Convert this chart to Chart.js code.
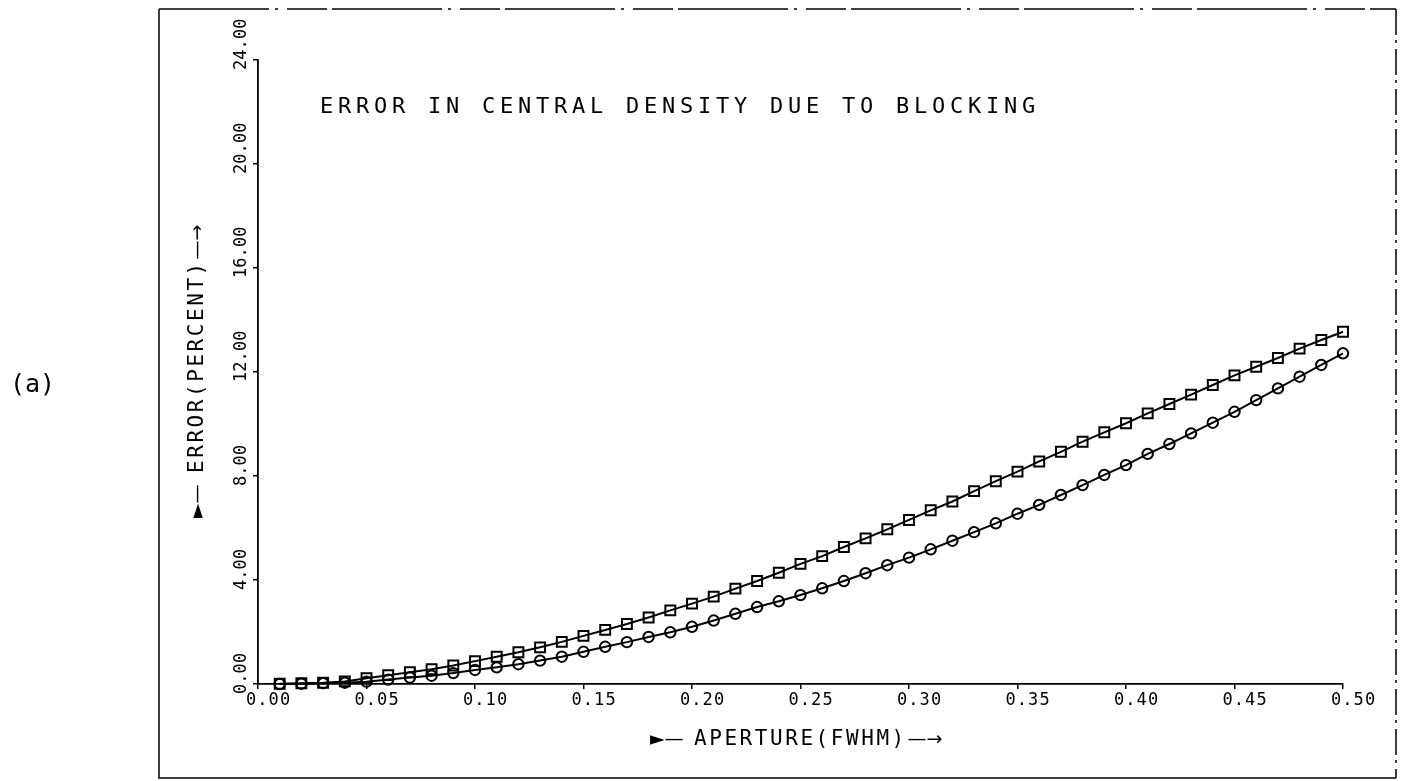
<!DOCTYPE html>
<html>
<head>
<meta charset="utf-8">
<script src="https://cdn.jsdelivr.net/npm/chart.js@4/dist/chart.umd.min.js"></script>
<style>
  html, body { margin: 0; padding: 0; background: #fff; }
  canvas { display: block; }
</style>
</head>
<body>
<canvas id="c" width="1407" height="781"></canvas>
<script>
// Aperture values (FWHM units) at which the blocking error was computed
const aperture = [
  0.01, 0.02, 0.03, 0.04, 0.05, 0.06, 0.07, 0.08, 0.09, 0.10,
  0.11, 0.12, 0.13, 0.14, 0.15, 0.16, 0.17, 0.18, 0.19, 0.20,
  0.21, 0.22, 0.23, 0.24, 0.25, 0.26, 0.27, 0.28, 0.29, 0.30,
  0.31, 0.32, 0.33, 0.34, 0.35, 0.36, 0.37, 0.38, 0.39, 0.40,
  0.41, 0.42, 0.43, 0.44, 0.45, 0.46, 0.47, 0.48, 0.49, 0.50
];

// Error in central density (percent), square-marker curve
const errSquares = [
  0.01, 0.03, 0.05, 0.10, 0.22, 0.34, 0.45, 0.57, 0.71, 0.88,
  1.05, 1.22, 1.41, 1.62, 1.85, 2.08, 2.31, 2.56, 2.83, 3.09,
  3.36, 3.67, 3.96, 4.28, 4.62, 4.92, 5.27, 5.60, 5.95, 6.31,
  6.68, 7.02, 7.42, 7.80, 8.17, 8.56, 8.93, 9.32, 9.68, 10.03,
  10.41, 10.77, 11.13, 11.50, 11.87, 12.20, 12.54, 12.90, 13.23, 13.55
];

// Error in central density (percent), circle-marker curve
const errCircles = [
  0.00, 0.01, 0.03, 0.05, 0.09, 0.17, 0.25, 0.32, 0.42, 0.54,
  0.64, 0.76, 0.90, 1.05, 1.24, 1.43, 1.61, 1.81, 1.99, 2.20,
  2.44, 2.70, 2.96, 3.18, 3.42, 3.68, 3.96, 4.26, 4.57, 4.86,
  5.18, 5.51, 5.84, 6.18, 6.55, 6.89, 7.27, 7.65, 8.04, 8.42,
  8.85, 9.23, 9.64, 10.05, 10.47, 10.92, 11.37, 11.82, 12.27, 12.72
];

const xTickLabels = ['0.00', '0.05', '0.10', '0.15', '0.20', '0.25', '0.30', '0.35', '0.40', '0.45', '0.50'];
const yTickLabels = ['0.00', '4.00', '8.00', '12.00', '16.00', '20.00', '24.00'];

const plotTitle = 'ERROR IN CENTRAL DENSITY DUE TO BLOCKING';
const xAxisTitle = 'APERTURE(FWHM)';
const yAxisTitle = 'ERROR(PERCENT)';
const panelTag = '(a)';

const MONO = '"DejaVu Sans Mono", monospace';
const SANS = '"DejaVu Sans", sans-serif';

// draw a string one character at a time with a fixed pitch (plotter-style lettering)
function spaced(ctx, text, x, y, pitch) {
  for (let i = 0; i < text.length; i++) {
    ctx.fillText(text[i], x + i * pitch, y);
  }
}

// axis title with a leading "►—" and trailing "—→", laid out along +u
function arrowTitle(ctx, text, pitch, gapBefore, gapAfter) {
  ctx.font = '19px ' + SANS;
  ctx.fillText('\u25BA\u2014', 0, 0);
  const start = gapBefore;
  ctx.font = '21px ' + MONO;
  spaced(ctx, text, start, 0, pitch);
  const end = start + (text.length - 1) * pitch + 12 + gapAfter;
  ctx.font = '19px ' + SANS;
  ctx.fillText('\u2014\u2192', end, 0);
}

const decorations = {
  id: 'decorations',
  beforeDraw(chart) {
    const ctx = chart.ctx;
    ctx.save();
    ctx.fillStyle = '#fff';
    ctx.fillRect(0, 0, chart.width, chart.height);
    ctx.restore();
  },
  afterDraw(chart) {
    const ctx = chart.ctx;
    const xs = chart.scales.x, ys = chart.scales.y;
    ctx.save();
    ctx.fillStyle = '#000';
    ctx.strokeStyle = '#000';

    // outer frame
    ctx.lineWidth = 1.5;
    ctx.beginPath(); ctx.moveTo(159, 9); ctx.lineTo(159, 778); ctx.lineTo(1396, 778); ctx.stroke();
    ctx.setLineDash([110, 6, 3, 9, 40, 5]);
    ctx.beginPath(); ctx.moveTo(159, 9); ctx.lineTo(1396, 9); ctx.stroke();
    ctx.setLineDash([26, 5, 3, 6]);
    ctx.beginPath(); ctx.moveTo(1396, 9); ctx.lineTo(1396, 778); ctx.stroke();
    ctx.setLineDash([]);

    // plot title
    ctx.font = '22px ' + MONO;
    ctx.textAlign = 'left';
    ctx.textBaseline = 'alphabetic';
    spaced(ctx, plotTitle, 320, 113, 18);

    // x tick labels
    ctx.font = '17px ' + MONO;
    ctx.textBaseline = 'middle';
    xTickLabels.forEach(lbl => {
      const px = xs.getPixelForValue(parseFloat(lbl));
      spaced(ctx, lbl, px - 12, 701, 11.3);
    });

    // y tick labels, rotated to read upward
    yTickLabels.forEach(lbl => {
      const py = ys.getPixelForValue(parseFloat(lbl));
      ctx.save();
      ctx.translate(242, py + 10);
      ctx.rotate(-Math.PI / 2);
      spaced(ctx, lbl, 0, 0, 10.3);
      ctx.restore();
    });

    // x axis title
    ctx.save();
    ctx.translate(650, 740);
    arrowTitle(ctx, xAxisTitle, 15.2, 44, 4);
    ctx.restore();

    // y axis title
    ctx.save();
    ctx.translate(198, 518);
    ctx.rotate(-Math.PI / 2);
    arrowTitle(ctx, yAxisTitle, 15.2, 45, 4);
    ctx.restore();

    // panel tag
    ctx.font = '25px ' + MONO;
    ctx.textBaseline = 'middle';
    ctx.fillText(panelTag, 10, 385);

    ctx.restore();
  }
};

const toPoints = ys => aperture.map((x, i) => ({ x, y: ys[i] }));

const axisGrid = { drawOnChartArea: false, drawTicks: true, tickLength: 5, color: '#000', lineWidth: 1.5 };
const axisBorder = { display: true, color: '#000', width: 1.8 };

new Chart(document.getElementById('c').getContext('2d'), {
  type: 'line',
  data: {
    datasets: [
      {
        label: 'squares',
        data: toPoints(errSquares),
        borderColor: '#000',
        borderWidth: 2,
        tension: 0,
        pointStyle: 'rect',
        pointRadius: 7,
        pointBorderWidth: 2,
        pointBorderColor: '#000',
        pointBackgroundColor: 'rgba(0,0,0,0)',
        clip: false
      },
      {
        label: 'circles',
        data: toPoints(errCircles),
        borderColor: '#000',
        borderWidth: 2,
        tension: 0,
        pointStyle: 'circle',
        pointRadius: 5.2,
        pointBorderWidth: 2,
        pointBorderColor: '#000',
        pointBackgroundColor: 'rgba(0,0,0,0)',
        clip: false
      }
    ]
  },
  options: {
    responsive: false,
    animation: false,
    devicePixelRatio: 1,
    events: [],
    layout: { padding: { left: 210, right: 64, top: 60, bottom: 0 } },
    plugins: { legend: { display: false }, tooltip: { enabled: false }, title: { display: false } },
    scales: {
      x: {
        type: 'linear',
        min: 0,
        max: 0.5,
        afterBuildTicks: s => { s.ticks = xTickLabels.map(l => ({ value: parseFloat(l) })); },
        afterFit: s => { s.height = 97; },
        ticks: { display: false },
        grid: axisGrid,
        border: axisBorder
      },
      y: {
        type: 'linear',
        min: 0,
        max: 24,
        afterBuildTicks: s => { s.ticks = yTickLabels.map(l => ({ value: parseFloat(l) })); },
        afterFit: s => { s.width = 48; },
        ticks: { display: false },
        grid: axisGrid,
        border: axisBorder
      }
    }
  },
  plugins: [decorations]
});
</script>
</body>
</html>
